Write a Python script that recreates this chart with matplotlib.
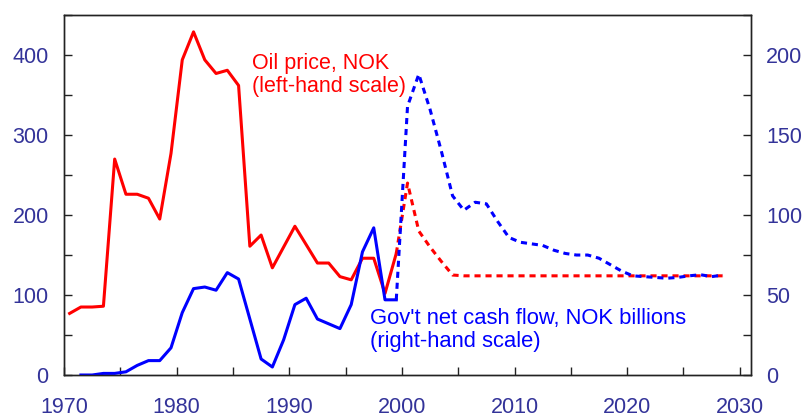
import numpy as np
import matplotlib
matplotlib.use('Agg')
import matplotlib.pyplot as plt
from matplotlib.ticker import MultipleLocator

plt.rcParams['font.family'] = ['Liberation Sans', 'DejaVu Sans']

# oil price, NOK (left-hand scale)
oil_years = np.arange(1970, 2000)
oil_price = [77, 85, 85, 86, 270, 226, 226, 221, 195, 277,
             394, 429, 394, 377, 381, 362, 161, 175, 134, 160,
             186, 163, 140, 140, 123, 119, 146, 146, 102, 152]
oil_fc_years = np.arange(1999, 2029)
oil_fc = [152, 240, 180, 160, 142, 125] + [124] * 24

# government net cash flow, NOK billions (right-hand scale)
cf_years = np.arange(1971, 2000)
cash_flow = [0, 0, 1, 1, 2, 6, 9, 9, 17, 39,
             54, 55, 53, 64, 60, 35, 10, 5, 22, 44,
             48, 35, 32, 29, 44, 77, 92, 47, 47]
cf_fc_years = np.arange(1999, 2029)
cf_fc = [47, 168, 188, 166, 140, 112, 103, 108, 107, 96,
         86, 83, 82, 81, 78, 76, 75, 75, 73, 69,
         65, 62, 61.5, 61, 60.5, 61, 62, 62.7, 61.5, 62.5]

red = '#ff0000'
blue = '#0000ff'
navy = '#333399'
mid = 0.5  # points sit in the middle of each year

fig = plt.figure(figsize=(8.05, 4.19), dpi=100)
ax = fig.add_axes([0.0795, 0.105, 0.8535, 0.859])
ax2 = ax.twinx()

ax.plot(oil_years + mid, oil_price, color=red, lw=2.2)
ax.plot(oil_fc_years + mid, oil_fc, color=red, lw=2.2, dashes=(2, 1.6))
ax2.plot(cf_years + mid, cash_flow, color=blue, lw=2.2)
ax2.plot(cf_fc_years + mid, cf_fc, color=blue, lw=2.2, dashes=(2, 1.6))

ax.set_xlim(1970, 2031)
ax.set_ylim(0, 450)
ax2.set_ylim(0, 225)

ax.xaxis.set_major_locator(MultipleLocator(10))
ax.xaxis.set_minor_locator(MultipleLocator(5))
ax.yaxis.set_major_locator(MultipleLocator(100))
ax.yaxis.set_minor_locator(MultipleLocator(50))
ax2.yaxis.set_major_locator(MultipleLocator(50))
ax2.yaxis.set_minor_locator(MultipleLocator(25))
ax.set_yticks([0, 100, 200, 300, 400])
ax2.set_yticks([0, 50, 100, 150, 200])

for a in (ax, ax2):
    a.tick_params(which='both', direction='in', length=6, width=1, color='#222222',
                  labelsize=15.5, labelcolor=navy)
    for s in a.spines.values():
        s.set_color('#222222')
        s.set_linewidth(1)
ax.tick_params(axis='y', which='both', pad=11, right=False)
ax.tick_params(axis='x', which='both', pad=16, top=False)
ax2.tick_params(axis='y', which='both', pad=11)

ax.text(1986.7, 403, 'Oil price, NOK\n(left-hand scale)', color=red, fontsize=15.5,
        va='top', ha='left', linespacing=1.15)
ax2.text(1997.2, 42, "Gov't net cash flow, NOK billions\n(right-hand scale)", color=blue,
         fontsize=15.8, va='top', ha='left', linespacing=1.15)

fig.savefig('out.png', dpi=100)
